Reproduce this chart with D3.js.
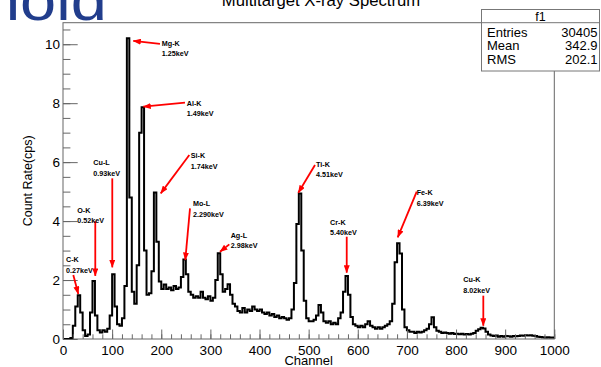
<!DOCTYPE html>
<html><head><meta charset="utf-8">
<script src="https://cdn.jsdelivr.net/npm/d3@7"></script>
<style>body{margin:0;background:#fff;overflow:hidden}svg{display:block}</style>
</head><body><svg id="c" width="601" height="367"></svg>
<script>
// ---------- data ----------
const binWidth = 5; // channels per bin
const counts = [
 0, 0, 0, 0.03, 0.45, 1.1, 1.48, 0.9, 0.3, 0.1,
 0.15, 0.9, 1.97, 0.8, 0.3, 0.22, 0.3, 0.25, 0.35, 0.8,
 2.2, 1.1, 0.5, 0.45, 0.7, 1.8, 10.2, 4.8, 1.6, 1.2,
 2.5, 7.0, 7.86, 3.0, 1.5, 1.55, 2.3, 4.97, 3.3, 1.95,
 1.7, 1.85, 1.7, 1.75, 1.65, 1.8, 1.7, 1.75, 2.1, 2.7,
 2.2, 1.6, 1.5, 1.4, 1.45, 1.4, 1.6, 1.4, 1.35, 1.45,
 1.3, 1.4, 2.0, 2.91, 2.2, 1.6, 1.7, 1.86, 1.5, 1.2,
 1.1, 0.95, 0.9, 1.05, 0.9, 1.0, 0.95, 1.1, 1.0, 0.95,
 1.0, 0.9, 0.85, 0.9, 0.8, 0.85, 0.75, 0.8, 0.7, 0.75,
 0.7, 0.65, 0.7, 1.0, 1.9, 3.9, 4.94, 3.0, 1.3, 0.7,
 0.6, 0.6, 0.65, 0.8, 1.15, 0.9, 0.6, 0.55, 0.6, 0.5,
 0.55, 0.5, 0.7, 0.9, 1.6, 2.14, 1.5, 0.75, 0.5, 0.45,
 0.4, 0.45, 0.4, 0.5, 0.6, 0.45, 0.4, 0.35, 0.4, 0.35,
 0.4, 0.45, 0.5, 0.6, 1.2, 2.6, 3.25, 2.9, 1.0, 0.4,
 0.3, 0.25, 0.25, 0.2, 0.25, 0.22, 0.25, 0.3, 0.35, 0.5,
 0.74, 0.4, 0.28, 0.25, 0.2, 0.22, 0.2, 0.18, 0.2, 0.17,
 0.18, 0.16, 0.18, 0.15, 0.17, 0.15, 0.18, 0.2, 0.28, 0.33,
 0.38, 0.36, 0.25, 0.15, 0.12, 0.1, 0.12, 0.08, 0.1, 0.08,
 0.1, 0.09, 0.08, 0.1, 0.09, 0.1, 0.12, 0.11, 0.13, 0.12,
 0.13, 0.11, 0.1, 0.08, 0.07, 0.06, 0.05, 0.06, 0.05, 0.05
];
const xDomain = [0, 1000];
const yDomain = [0, 10.73];
const xTicks = [0,100,200,300,400,500,600,700,800,900,1000];
const yTicks = [0,2,4,6,8,10];
const title = "Multitarget X-ray Spectrum";
const xTitle = "Channel";
const yTitle = "Count Rate(cps)";
const statsName = "f1";
const statsLabels = ["Entries","Mean","RMS"];
const statsValues = ["30405","342.9","202.1"];

const peakLabels   = ["C-K","O-K","Cu-L","Mg-K","Al-K","Si-K","Mo-L","Ag-L","Ti-K","Cr-K","Fe-K","Cu-K"];
const peakEnergies = ["0.27keV","0.52keV","0.93keV","1.25keV","1.49keV","1.74keV","2.290keV","2.98keV","4.51keV","5.40keV","6.39keV","8.02keV"];
const labelChannel = [6.1, 29.1, 61.7, 201, 251.8, 260, 264.6, 341.3, 515, 543.5, 720, 814.8];
const labelRate    = [2.60, 4.29, 5.89, 9.94, 7.92, 6.14, 4.50, 3.44, 5.85, 3.87, 4.87, 1.92];
const arrowFromChannel = [21, 65.7, 100.3, 197.4, 248.3, 257.1, 258.5, 338.5, 512.9, 577.5, 720, 855.5];
const arrowFromRate    = [2.17, 4.0, 5.45, 10.01, 8.02, 6.24, 4.43, 3.21, 5.90, 3.47, 5.0, 1.47];
const arrowToChannel   = [31.1, 65.7, 100.3, 143.1, 163.4, 198.9, 248.9, 319.6, 478.9, 577.5, 681.3, 855.5];
const arrowToRate      = [1.53, 2.14, 2.43, 10.11, 7.88, 4.94, 2.68, 2.96, 4.96, 2.25, 3.45, 0.45];

// ---------- drawing ----------
const svg = d3.select("#c");
const FONT = "'Liberation Sans', Arial, Helvetica, sans-serif";
const L = 63, R = 554.3, T = 22.7, B = 339;
const x = d3.scaleLinear().domain(xDomain).range([L, R]);
const y = d3.scaleLinear().domain(yDomain).range([B, T]);

// background decoration text (cropped logo word)
svg.append("text").attr("transform", "translate(-16,20) scale(1.12,1)")
  .attr("font-family", FONT).attr("font-size", 58).attr("fill", "#213d8c")
  .text("nold");

// title
svg.append("text").attr("x", 321).attr("y", 6).attr("text-anchor", "middle")
  .attr("font-family", FONT).attr("font-size", 16.7).attr("fill", "#000").text(title);

// frame
svg.append("rect").attr("x", L).attr("y", T).attr("width", R - L).attr("height", B - T)
  .attr("fill", "none").attr("stroke", "#666").attr("stroke-width", 1);

// histogram
const pts = counts.map((v, i) => [i * binWidth, v]);
pts.push([counts.length * binWidth, counts[counts.length - 1]]);
const line = d3.line().x(d => x(d[0])).y(d => y(d[1])).curve(d3.curveStepAfter);
svg.append("path").datum(pts).attr("d", line).attr("fill", "none")
  .attr("stroke", "#000").attr("stroke-width", 2).attr("stroke-linejoin", "miter");

// axes
const xMinor = d3.range(xDomain[0], xDomain[1] + 0.001, 20);
const yMinor = d3.range(yDomain[0], yDomain[1], 0.5);
const gx = svg.append("g").attr("transform", `translate(0,${B})`);
gx.call(d3.axisBottom(x).tickValues(xMinor).tickSize(-4.7).tickFormat(""));
gx.append("g").call(d3.axisBottom(x).tickValues(xTicks).tickSize(-9.5).tickPadding(6).tickFormat(d3.format("d")));
const gy = svg.append("g").attr("transform", `translate(${L},0)`);
gy.call(d3.axisLeft(y).tickValues(yMinor).tickSize(-7.4).tickFormat(""));
gy.append("g").call(d3.axisLeft(y).tickValues(yTicks).tickSize(-14.7).tickPadding(3).tickFormat(d3.format("d")));
svg.selectAll(".domain").remove();
svg.selectAll(".tick line").attr("stroke", "#666");
svg.selectAll(".tick text").attr("font-family", FONT).attr("font-size", 13.5).attr("fill", "#000");

// axis titles
svg.append("text").attr("x", (L + R) / 2).attr("y", 365).attr("text-anchor", "middle")
  .attr("font-family", FONT).attr("font-size", 13).text(xTitle);
svg.append("text").attr("transform", `translate(32,${(T + B) / 2}) rotate(-90)`).attr("text-anchor", "middle")
  .attr("font-family", FONT).attr("font-size", 12.5).text(yTitle);

// arrows + labels
const defs = svg.append("defs");
defs.append("marker").attr("id", "ah").attr("markerUnits", "userSpaceOnUse")
  .attr("viewBox", "0 0 8 6").attr("markerWidth", 8).attr("markerHeight", 6)
  .attr("refX", 7.5).attr("refY", 3).attr("orient", "auto")
  .append("path").attr("d", "M0,0L8,3L0,6Z").attr("fill", "#ff0000");

const ann = svg.append("g");
peakLabels.forEach((name, i) => {
  ann.append("line")
    .attr("x1", x(arrowFromChannel[i])).attr("y1", y(arrowFromRate[i]))
    .attr("x2", x(arrowToChannel[i])).attr("y2", y(arrowToRate[i]))
    .attr("stroke", "#ff0000").attr("stroke-width", 1.8).attr("marker-end", "url(#ah)");
  const t = ann.append("text").attr("font-family", FONT).attr("font-size", 7.2)
    .attr("font-weight", "bold").attr("fill", "#000");
  t.append("tspan").attr("x", x(labelChannel[i])).attr("y", y(labelRate[i])).text(name);
  t.append("tspan").attr("x", x(labelChannel[i])).attr("y", y(labelRate[i]) + 10.5).text(peakEnergies[i]);
});

// stats box
const sb = svg.append("g");
sb.append("rect").attr("x", 481.5).attr("y", 9.5).attr("width", 118).attr("height", 61.5)
  .attr("fill", "#fff").attr("stroke", "#777");
sb.append("line").attr("x1", 481.5).attr("x2", 599.5).attr("y1", 22.7).attr("y2", 22.7).attr("stroke", "#777");
sb.append("text").attr("x", 540.5).attr("y", 20.5).attr("text-anchor", "middle")
  .attr("font-family", FONT).attr("font-size", 12.5).text(statsName);
statsLabels.forEach((lab, i) => {
  const by = 36.5 + i * 13.5;
  sb.append("text").attr("x", 487).attr("y", by).attr("font-family", FONT).attr("font-size", 13).text(lab);
  sb.append("text").attr("x", 597.5).attr("y", by).attr("text-anchor", "end")
    .attr("font-family", FONT).attr("font-size", 13).text(statsValues[i]);
});
</script></body></html>
